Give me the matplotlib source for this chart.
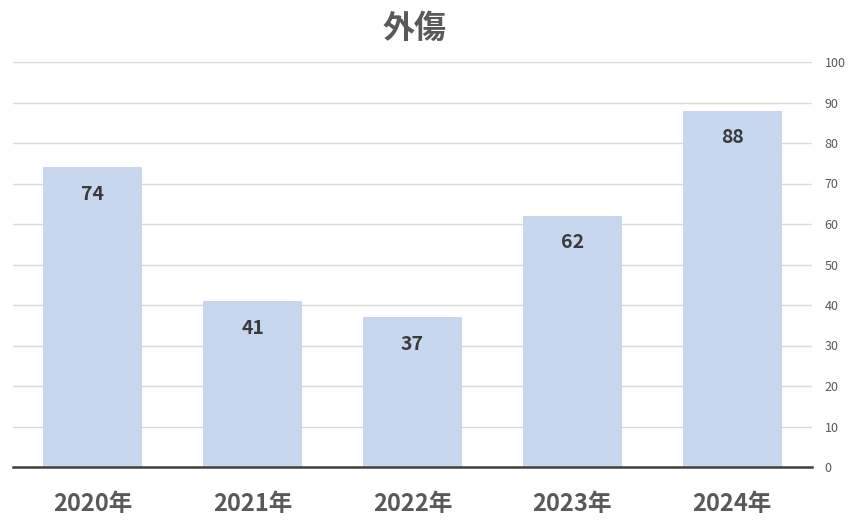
import matplotlib.pyplot as plt
import numpy as np

plt.rcParams['font.family'] = ['Noto Sans CJK JP', 'DejaVu Sans']

# Data
years = ['2020年', '2021年', '2022年', '2023年', '2024年']
counts = [74, 41, 37, 62, 88]
title = '外傷'

fig = plt.figure(figsize=(8.64, 5.31), dpi=100)
ax = fig.add_axes([13 / 864, 64 / 531, 799 / 864, 405 / 531])

x = np.arange(len(years))
bars = ax.bar(x, counts, width=0.62, color='#c7d8ee', zorder=2)

# value labels just below the top of each bar
for xi, v in zip(x, counts):
    ax.annotate(str(v), (xi, v), xytext=(0, -19.5), textcoords='offset points',
                ha='center', va='center', fontsize=14, fontweight='bold',
                color='#3b3b3b', zorder=3)

ax.set_xlim(-0.5, len(years) - 0.5)
ax.set_ylim(0, 100)
ax.set_yticks(range(0, 101, 10))
ax.yaxis.tick_right()
ax.tick_params(axis='y', length=0, pad=9, labelsize=9, labelcolor='#595959')
ax.set_xticks(x)
ax.set_xticklabels(years, fontsize=17, fontweight='bold', color='#595959')
ax.tick_params(axis='x', length=0, pad=18)

ax.grid(axis='y', color='#d9d9d9', linewidth=1, zorder=0)
for s in ['top', 'right', 'left']:
    ax.spines[s].set_visible(False)
ax.spines['bottom'].set_color('#404040')
ax.spines['bottom'].set_linewidth(1.8)
ax.spines['bottom'].set_zorder(4)

fig.text(0.48, 0.945, title, ha='center', va='center', fontsize=23,
         fontweight='bold', color='#595959')

plt.savefig('out.png', dpi=100)
